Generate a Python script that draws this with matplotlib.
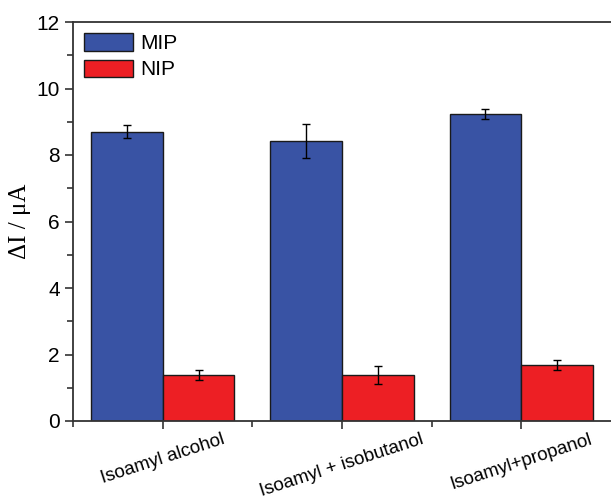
import matplotlib
matplotlib.use("Agg")
import matplotlib.pyplot as plt
import matplotlib.transforms as mtransforms
import numpy as np
from matplotlib.ticker import MultipleLocator, FixedLocator

categories = ["Isoamyl alcohol", "Isoamyl + isobutanol", "Isoamyl+propanol"]
mip_values = [8.70, 8.41, 9.23]
mip_errors = [0.20, 0.51, 0.14]
nip_values = [1.38, 1.38, 1.68]
nip_errors = [0.15, 0.28, 0.15]

blue = "#3953a4"
red = "#ed1f24"

plt.rcParams["font.family"] = ["Liberation Sans", "DejaVu Sans"]

fig = plt.figure(figsize=(6.11, 5.0), dpi=100)
ax = fig.add_axes([73 / 611, 79 / 500, 538 / 611, 399 / 500])

x = np.arange(len(categories))
w = 0.4
ax.bar(x - w / 2, mip_values, w, color=blue, edgecolor="#1a1a1a", linewidth=1.0,
       label="MIP", zorder=2)
ax.bar(x + w / 2, nip_values, w, color=red, edgecolor="#1a1a1a", linewidth=1.0,
       label="NIP", zorder=2)
ax.errorbar(x - w / 2, mip_values, yerr=mip_errors, fmt="none", ecolor="black",
            elinewidth=1.0, capsize=3, capthick=1.0, zorder=3)
ax.errorbar(x + w / 2, nip_values, yerr=nip_errors, fmt="none", ecolor="black",
            elinewidth=1.0, capsize=3, capthick=1.0, zorder=3)

ax.set_xlim(-0.5, 2.5)
ax.set_ylim(0, 12)
ax.yaxis.set_major_locator(MultipleLocator(2))
ax.yaxis.set_minor_locator(MultipleLocator(1))
ax.set_xticks(x)
ax.set_xticklabels(categories, rotation=18, fontsize=13.5, ha="center")
ax.xaxis.set_minor_locator(FixedLocator([-0.5, 0.5, 1.5]))

# nudge the slanted category labels a little to the left
shifts_px = [-8, -24, -12]
for lbl, dx in zip(ax.get_xticklabels(), shifts_px):
    lbl.set_transform(lbl.get_transform() +
                      mtransforms.ScaledTranslation(dx / 100, 0, fig.dpi_scale_trans))

ax.tick_params(axis="y", which="major", labelsize=15, length=6, width=1.2,
               direction="out", color="#333333")
ax.tick_params(axis="y", which="minor", length=4, width=1.2, direction="out",
               color="#333333")
ax.tick_params(axis="x", which="major", length=6, width=1.2, direction="out",
               color="#333333", pad=1)
ax.tick_params(axis="x", which="minor", length=4, width=1.2, direction="out",
               color="#333333")

for side in ("left", "bottom", "top"):
    ax.spines[side].set_linewidth(1.3)
    ax.spines[side].set_color("#333333")
ax.spines["right"].set_visible(False)

ax.set_ylabel("ΔI / μA", fontsize=18, family=["Liberation Serif", "DejaVu Serif"],
              labelpad=4)

ax.legend(loc="upper left", frameon=False, fontsize=15, handlelength=2.35,
          handleheight=0.91, borderaxespad=0.15, labelspacing=0.3,
          handletextpad=0.34, bbox_to_anchor=(0.0, 1.0))

fig.savefig("out.png", dpi=100)
